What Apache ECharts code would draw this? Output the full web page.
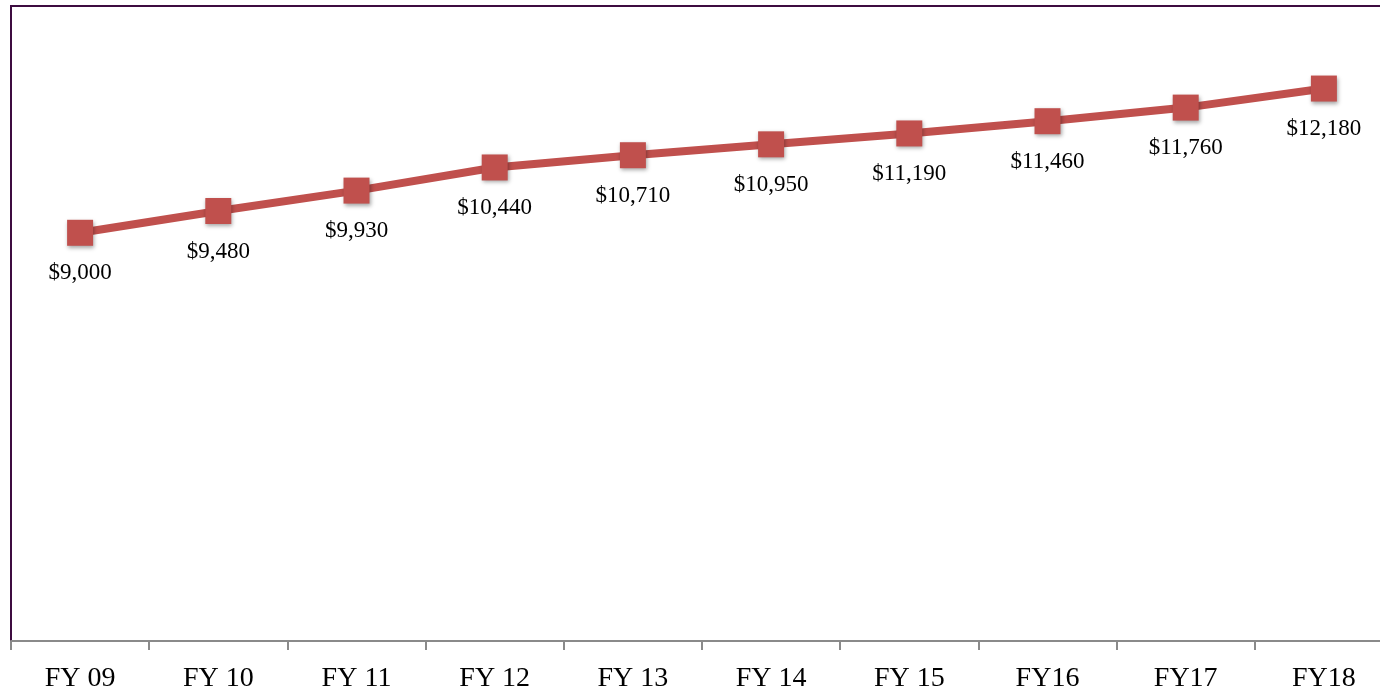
<!DOCTYPE html>
<html>
<head>
<meta charset="utf-8">
<script src="https://cdn.jsdelivr.net/npm/echarts@6/dist/echarts.min.js"></script>
<style>
  html, body { margin: 0; padding: 0; background: #fff; overflow: hidden; }
  /* plot area runs past the right edge of the window, as in the original */
  #chart { width: 1393px; height: 693px; }
</style>
</head>
<body>
<div id="chart"></div>
<script>
// fiscal years and values
const years = ['FY 09', 'FY 10', 'FY 11', 'FY 12', 'FY 13', 'FY 14', 'FY 15', 'FY16', 'FY17', 'FY18'];
const amounts = [9000, 9480, 9930, 10440, 10710, 10950, 11190, 11460, 11760, 12180];

const serif = '"Liberation Serif", "DejaVu Serif", serif';

const chart = echarts.init(document.getElementById('chart'));
chart.setOption({
  animation: false,
  grid: {
    left: 11, top: 6, right: 0, bottom: 52,
    show: true, borderColor: '#3d0c40', borderWidth: 2, backgroundColor: 'transparent'
  },
  xAxis: {
    type: 'category',
    data: years,
    boundaryGap: true,
    axisLine: { lineStyle: { color: '#8a8a8a', width: 2 } },
    axisTick: { show: true, length: 9, lineStyle: { color: '#8a8a8a', width: 2 } },
    axisLabel: { color: '#000', fontFamily: serif, fontSize: 28, margin: 24 }
  },
  yAxis: {
    type: 'value',
    min: 0,
    max: 14000,
    show: false,
    splitLine: { show: false }
  },
  series: [{
    type: 'line',
    data: amounts,
    symbol: 'rect',
    symbolSize: 26,
    lineStyle: { color: '#c0504d', width: 8 },
    itemStyle: {
      color: '#c0504d',
      shadowColor: 'rgba(0,0,0,0.35)', shadowBlur: 4, shadowOffsetX: 1, shadowOffsetY: 2
    },
    label: {
      show: true,
      position: 'bottom',
      distance: 16,
      color: '#000',
      fontFamily: serif,
      fontSize: 23,
      formatter: p => '$' + p.value.toLocaleString('en-US')
    }
  }]
});
</script>
</body>
</html>
